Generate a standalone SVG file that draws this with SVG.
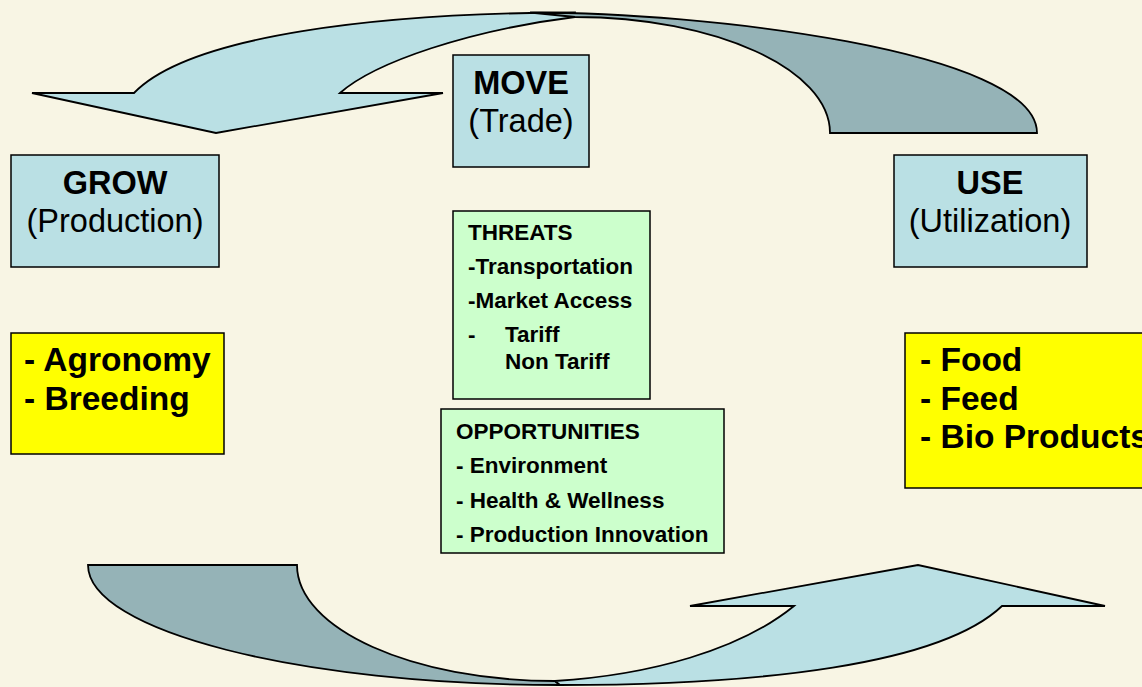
<svg xmlns="http://www.w3.org/2000/svg" width="1142" height="687" viewBox="0 0 1142 687">
<style>
.bg{fill:#F8F5E4}
.box{stroke:#000;stroke-width:1.5}
.blue{fill:#BAE0E4}
.dark{fill:#95B3B7}
.green{fill:#CCFFCC}
.yellow{fill:#FFFF00}
.arr{stroke:#000;stroke-width:1.8;stroke-linejoin:miter}
text{font-family:"Liberation Sans",Arial,sans-serif;fill:#000}
.t{font-size:32.5px;text-anchor:middle}
.b{font-weight:bold}
.y{font-size:33.5px;font-weight:bold}
.s{font-size:22.5px;font-weight:bold}
</style>
<rect class="bg" x="0" y="0" width="1142" height="687"/>
<g id="connectors">
  <path class="arr blue" d="M32,93 L134,93 C190,35 380,13 575,12.5 L575,17 C470,30 375,62 340,93 L443,93 L216,133 Z"/>
  <path class="arr dark" d="M530,12.5 C700,12 1037,50 1037,133 L830,133 C830,69 715,17 575,17 Z"/>
  <path class="arr dark" d="M88,565 L297,565 C297,629 413,681 555,681 L560,685 C299,685 88,631 88,565 Z"/>
  <path class="arr blue" d="M555,681 C650,675 740,650 794,606 L690,606 L918,565 L1105,606 L1002,606 C940,665 760,685 560,685 Z"/>
</g>
<g id="move">
  <rect class="box blue" x="453" y="55" width="136" height="112"/>
  <text class="t b" x="521" y="94">MOVE</text>
  <text class="t" x="521" y="132">(Trade)</text>
</g>
<g id="grow">
  <rect class="box blue" x="11" y="155" width="208" height="112"/>
  <text class="t b" x="115" y="194">GROW</text>
  <text class="t" x="115" y="232">(Production)</text>
</g>
<g id="use">
  <rect class="box blue" x="894" y="155" width="193" height="112"/>
  <text class="t b" x="990" y="194">USE</text>
  <text class="t" x="990" y="232">(Utilization)</text>
</g>
<g id="grow-items">
  <rect class="box yellow" x="11" y="333" width="213" height="121"/>
  <text class="y" x="24" y="371">- Agronomy</text>
  <text class="y" x="24" y="410">- Breeding</text>
</g>
<g id="use-items">
  <rect class="box yellow" x="905" y="333" width="250" height="155"/>
  <text class="y" x="920" y="371">- Food</text>
  <text class="y" x="920" y="410">- Feed</text>
  <text class="y" x="920" y="448">- Bio Products</text>
</g>
<g id="threats">
  <rect class="box green" x="453" y="211" width="197" height="188"/>
  <text class="s" x="468" y="240">THREATS</text>
  <text class="s" x="468" y="274">-Transportation</text>
  <text class="s" x="468" y="308">-Market Access</text>
  <text class="s" x="468" y="342">-<tspan x="505">Tariff</tspan></text>
  <text class="s" x="505" y="369">Non Tariff</text>
</g>
<g id="opportunities">
  <rect class="box green" x="441" y="409" width="283" height="144"/>
  <text class="s" x="456" y="439">OPPORTUNITIES</text>
  <text class="s" x="456" y="473">- Environment</text>
  <text class="s" x="456" y="508">- Health &amp; Wellness</text>
  <text class="s" x="456" y="542">- Production Innovation</text>
</g>
</svg>
